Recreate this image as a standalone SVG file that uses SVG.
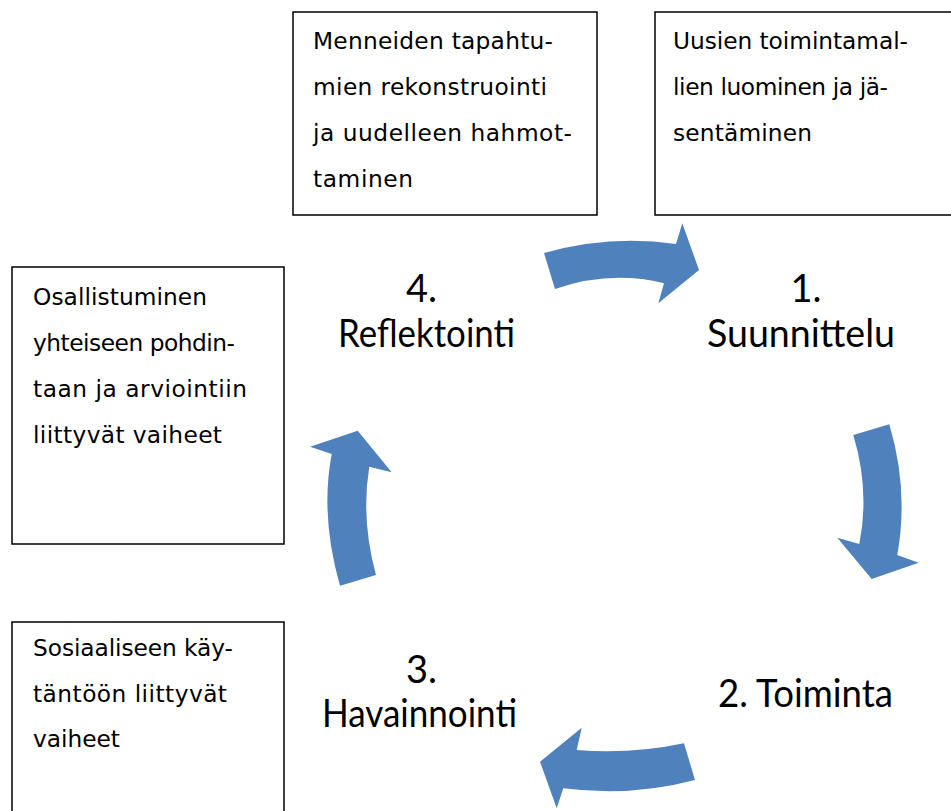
<svg xmlns="http://www.w3.org/2000/svg" width="951" height="811" viewBox="0 0 951 811">
<style>
.box{fill:#fff;stroke:#000;stroke-width:1.5}
.bt{font-family:"DejaVu Sans",Verdana,sans-serif;font-size:23.3px;fill:#000}
.lbl{font-family:Lato,"Open Sans",sans-serif;font-size:38px;fill:#000}
.arr{fill:#4F81BD}
</style>
<rect width="951" height="811" fill="#fff"/>
<g id="box-menneiden">
<rect class="box" x="293" y="12" width="304" height="203"/>
<text class="bt" x="313" y="49" textLength="240">Menneiden tapahtu-</text>
<text class="bt" x="313" y="95" textLength="234">mien rekonstruointi</text>
<text class="bt" x="313" y="141" textLength="259">ja uudelleen hahmot-</text>
<text class="bt" x="313" y="187" textLength="100">taminen</text>
</g>
<g id="box-uusien">
<rect class="box" x="655" y="12" width="300" height="203"/>
<text class="bt" x="673" y="49" textLength="235">Uusien toimintamal-</text>
<text class="bt" x="673" y="95" textLength="215">lien luominen ja jä-</text>
<text class="bt" x="673" y="141" textLength="139">sentäminen</text>
</g>
<g id="box-osallistuminen">
<rect class="box" x="12" y="267" width="272" height="277"/>
<text class="bt" x="33" y="305" textLength="174">Osallistuminen</text>
<text class="bt" x="33" y="351" textLength="202">yhteiseen pohdin-</text>
<text class="bt" x="33" y="397" textLength="214">taan ja arviointiin</text>
<text class="bt" x="33" y="443" textLength="189">liittyvät vaiheet</text>
</g>
<g id="box-sosiaaliseen">
<rect class="box" x="12" y="622" width="272" height="200"/>
<text class="bt" x="33" y="656" textLength="200">Sosiaaliseen käy-</text>
<text class="bt" x="33" y="702" textLength="194">täntöön liittyvät</text>
<text class="bt" x="33" y="747" textLength="87">vaiheet</text>
</g>
<g id="node-reflektointi">
<text class="lbl" x="421.5" y="302" text-anchor="middle">4.</text>
<text class="lbl" x="338" y="347" textLength="177" lengthAdjust="spacingAndGlyphs">Reflektointi</text>
</g>
<g id="node-suunnittelu">
<text class="lbl" x="806" y="302" text-anchor="middle">1.</text>
<text class="lbl" x="707" y="347" textLength="188" lengthAdjust="spacingAndGlyphs">Suunnittelu</text>
</g>
<g id="node-toiminta">
<text class="lbl" x="718" y="707" textLength="175" lengthAdjust="spacingAndGlyphs">2. Toiminta</text>
</g>
<g id="node-havainnointi">
<text class="lbl" x="421.5" y="683" text-anchor="middle">3.</text>
<text class="lbl" x="322" y="727" textLength="195" lengthAdjust="spacingAndGlyphs">Havainnointi</text>
</g>
<g id="connectors">
<path class="arr" d="M544,253 Q610,234.5 676,244 L682.3,223.3 L699,270 L658.3,303.3 L664,283.3 Q610.5,270 555,289 Z"/>
<path class="arr" d="M889.3,424.3 Q909,490.5 897.3,555 L918.7,562.7 L871.7,579 L837.3,537.7 L859.3,544 Q870,490.5 853.3,435 Z"/>
<path class="arr" d="M684,743.3 Q629.6,754.7 576.7,750 L581.7,727.7 L540,761.7 L556.7,808.3 L563.3,788.3 Q631,797 695,780 Z"/>
<path class="arr" d="M340,585.7 Q320,516 331.7,454 L310,446.7 L357.7,430.7 L391.7,472.3 L369.3,466.7 Q360.7,519 376,575 Z"/>
</g>
</svg>
